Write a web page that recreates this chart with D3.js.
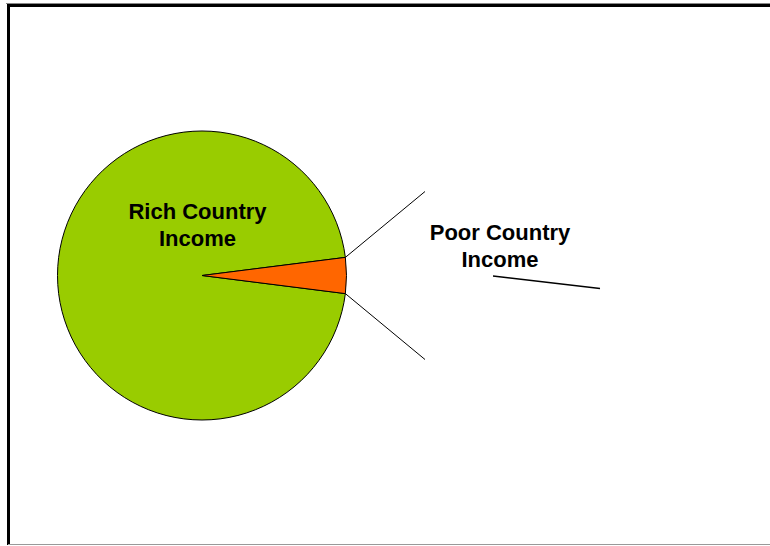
<!DOCTYPE html>
<html>
<head>
<meta charset="utf-8">
<script src="https://cdn.jsdelivr.net/npm/d3@7"></script>
<style>
  html, body { margin: 0; padding: 0; background: #fff; }
  svg { display: block; }
</style>
</head>
<body>
<svg id="chart" width="770" height="546"></svg>
<script>
// Share of world income
const categories = ["Rich Country Income", "Poor Country Income"];
const values = [96, 4];
const colors = ["#99CC00", "#FF6600"];
const labelLines = [["Rich Country", "Income"], ["Poor Country", "Income"]];

const svg = d3.select("#chart");
const W = 770, H = 546;

// Frame
svg.append("line").attr("x1", 6).attr("x2", W).attr("y1", 3.5).attr("y2", 3.5)
  .attr("stroke", "#888").attr("stroke-width", 1);
svg.append("line").attr("x1", 7).attr("x2", W).attr("y1", 5.5).attr("y2", 5.5)
  .attr("stroke", "#000").attr("stroke-width", 3);
svg.append("line").attr("x1", 8.5).attr("x2", 8.5).attr("y1", 4).attr("y2", H - 1)
  .attr("stroke", "#000").attr("stroke-width", 3);
svg.append("line").attr("x1", 8).attr("x2", W).attr("y1", H - 1.5).attr("y2", H - 1.5)
  .attr("stroke", "#999").attr("stroke-width", 1);

// Pie
const cx = 202, cy = 275.5, r = 144.5;
const poorSpan = values[1] / d3.sum(values) * 2 * Math.PI;
// rotate so the small slice sits centred at 3 o'clock
const start = Math.PI / 2 + poorSpan / 2;
const pie = d3.pie().sort(null).value(d => d)
  .startAngle(start).endAngle(start + 2 * Math.PI);
const arcs = pie(values);
const arc = d3.arc().innerRadius(0).outerRadius(r);

const g = svg.append("g").attr("transform", `translate(${cx},${cy})`);
g.selectAll("path").data(arcs).join("path")
  .attr("d", arc)
  .attr("fill", (d, i) => colors[i])
  .attr("stroke", "#000")
  .attr("stroke-width", 1)
  .attr("stroke-linejoin", "round");

// Connector lines from the small slice toward the secondary plot
const poor = arcs[1];
const edgePt = a => [Math.sin(a) * r, -Math.cos(a) * r];
const topPt = edgePt(poor.startAngle);
const botPt = edgePt(poor.endAngle);
const conn = [
  [topPt, [425 - cx, 191.5 - cy]],
  [botPt, [425 - cx, 359.5 - cy]]
];
g.selectAll("line.conn").data(conn).join("line")
  .attr("class", "conn")
  .attr("x1", d => d[0][0]).attr("y1", d => d[0][1])
  .attr("x2", d => d[1][0]).attr("y2", d => d[1][1])
  .attr("stroke", "#000").attr("stroke-width", 1);

// Short line under the secondary label
svg.append("line")
  .attr("x1", 493).attr("y1", 276).attr("x2", 600).attr("y2", 288.5)
  .attr("stroke", "#000").attr("stroke-width", 1.3);

// Labels
const labelPos = [[197.5, 218.5], [500, 239.5]];
const font = "'Liberation Sans', Arial, Helvetica, sans-serif";
labelLines.forEach((lines, i) => {
  const t = svg.append("text")
    .attr("x", labelPos[i][0]).attr("y", labelPos[i][1])
    .attr("text-anchor", "middle")
    .attr("font-family", font)
    .attr("font-weight", "bold")
    .attr("font-size", 22)
    .attr("fill", "#000");
  lines.forEach((s, j) => {
    t.append("tspan").attr("x", labelPos[i][0]).attr("dy", j === 0 ? 0 : 27.5).text(s);
  });
});
</script>
</body>
</html>
